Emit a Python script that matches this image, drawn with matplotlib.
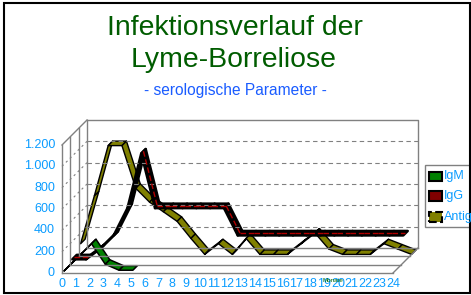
import numpy as np
import matplotlib.pyplot as plt
from matplotlib.patches import Polygon, Rectangle

plt.rcParams['font.family'] = ['Liberation Sans', 'DejaVu Sans']

# data
months = list(range(25))
igm = [0, 128, 256, 64, 8, 8, np.nan, np.nan, np.nan, np.nan, np.nan, np.nan, np.nan,
       np.nan, np.nan, np.nan, np.nan, np.nan, np.nan, np.nan, np.nan, np.nan, np.nan, np.nan, np.nan]
igg = [32, 32, 128, 256, 512, 1024, 512, 512, 512, 512, 512, 512, 256,
       256, 256, 256, 256, 256, 256, 256, 256, 256, 256, 256, 256]
antigen = [100, 550, 1020, 1020, 620, 490, 400, 310, 150, 0, 100, 0, 150,
           0, 0, 0, 100, 200, 50, 0, 0, 0, 100, 50, 0]
series_names = ['IgM', 'IgG', 'Antigen']
series_colors = ['#008000', '#800000', '#808000']
yticks = [0, 200, 400, 600, 800, 1000, 1200]
ytick_labels = ['0', '200', '400', '600', '800', '1.000', '1.200']

W, H = 471, 295
X0, Y0 = 62, 273              # front origin in pixels
cx = 331 / 24                 # pixels per month
vy = 128 / 1200               # pixels per unit
DX, DY = 25 / cx, 25 / vy     # depth of the box in data units
HW = 0.09                     # half thickness of a ribbon (fraction of depth)
grey = '#808080'
blue = '#0a9cff'

fig = plt.figure(figsize=(W / 100, H / 100), dpi=100)
ax = fig.add_axes([0, 0, 1, 1])
ax.set_xlim(-X0 / cx, (W - X0) / cx)
ax.set_ylim(-(H - Y0) / vy, Y0 / vy)
ax.axis('off')

def fx(px):
    return px / W

def fy(py):
    return 1 - py / H

# walls and floor
xmax, ymax = months[-1], yticks[-1]
for v in yticks[1:-1]:
    ax.plot([DX, xmax + DX], [v + DY, v + DY], color=grey, lw=0.8, ls=(0, (4, 3)))
    ax.plot([0, DX], [v, v + DY], color=grey, lw=0.8, ls=(0, (2, 3)))
for k in [0, 1 / 3, 2 / 3, 1]:
    ax.plot([k * DX, xmax + k * DX], [k * DY, k * DY], color=grey, lw=1)
    ax.plot([k * DX, k * DX], [k * DY, ymax + k * DY], color=grey, lw=1)
ax.plot([DX, xmax + DX, xmax + DX], [ymax + DY, ymax + DY, DY], color=grey, lw=1)
ax.plot([0, DX], [ymax, ymax + DY], color=grey, lw=1)
ax.plot([xmax, xmax + DX], [0, DY], color=grey, lw=1)


def ribbon(vals, d, color, lw=1.0):
    vals = np.array(vals, float)
    a, b = d - HW, d + HW
    for i in range(len(vals) - 1):
        if np.isnan(vals[i]) or np.isnan(vals[i + 1]):
            continue
        x0, x1 = months[i], months[i + 1]
        pts = [(x0 + a * DX, vals[i] + a * DY), (x1 + a * DX, vals[i + 1] + a * DY),
               (x1 + b * DX, vals[i + 1] + b * DY), (x0 + b * DX, vals[i] + b * DY)]
        ax.add_patch(Polygon(pts, closed=True, fc=color, ec='black', lw=lw, joinstyle='round'))

# back to front
ribbon(antigen, 5 / 6, series_colors[2], lw=1.0)
ribbon(igg, 1 / 2, 'black', lw=1.8)
# the dark red top of the IgG ribbon shows only where it is flat or falling
igg_arr = np.array(igg, float)
for i in range(len(months) - 1):
    if igg_arr[i + 1] <= igg_arr[i]:
        ax.plot([months[i] + DX / 2, months[i + 1] + DX / 2],
                [igg_arr[i] + DY / 2, igg_arr[i + 1] + DY / 2],
                color='#b00000', lw=1.0, ls=(0, (4, 2)))
ribbon(igm, 1 / 6, series_colors[0], lw=1.1)

# axis labels
for v, lab in zip(yticks, ytick_labels):
    ax.text(-7 / cx, v, lab, ha='right', va='center', fontsize=9, color=blue)
for m in months:
    ax.text(m, -11 / vy, str(m), ha='center', va='center', fontsize=9, color=blue)
fig.text(fx(333), fy(281), 'Monate', ha='center', va='center', fontsize=4.5, color='#006400')

# titles
fig.text(fx(235), fy(35), 'Infektionsverlauf der', ha='center', va='baseline',
         fontsize=20.4, color='#005c00')
fig.text(fx(234), fy(67), 'Lyme-Borreliose', ha='center', va='baseline',
         fontsize=20.4, color='#005c00')
fig.text(fx(235), fy(95), '- serologische Parameter -', ha='center', va='baseline',
         fontsize=11.2, color='#1a5cff')

# legend
fig.patches.append(Rectangle((fx(425), fy(227)), fx(60), fy(165) - fy(227), transform=fig.transFigure,
                             fc='white', ec=grey, lw=1))
for name, col, py in zip(series_names, series_colors, [176, 196, 217]):
    fig.patches.append(Rectangle((fx(429), fy(py + 4.5)), fx(13), fy(py - 4.5) - fy(py + 4.5),
                                 transform=fig.transFigure, fc=col, ec='black', lw=1.5,
                                 ls='--' if name == 'Antigen' else '-'))
    fig.text(fx(444), fy(py), name, ha='left', va='center', fontsize=9, color=blue)

# outer frame
fig.patches.append(Rectangle((fx(4), fy(293)), fx(466), fy(3) - fy(293), transform=fig.transFigure,
                             fill=False, ec='black', lw=1.5))

fig.savefig('out.png', dpi=100)
